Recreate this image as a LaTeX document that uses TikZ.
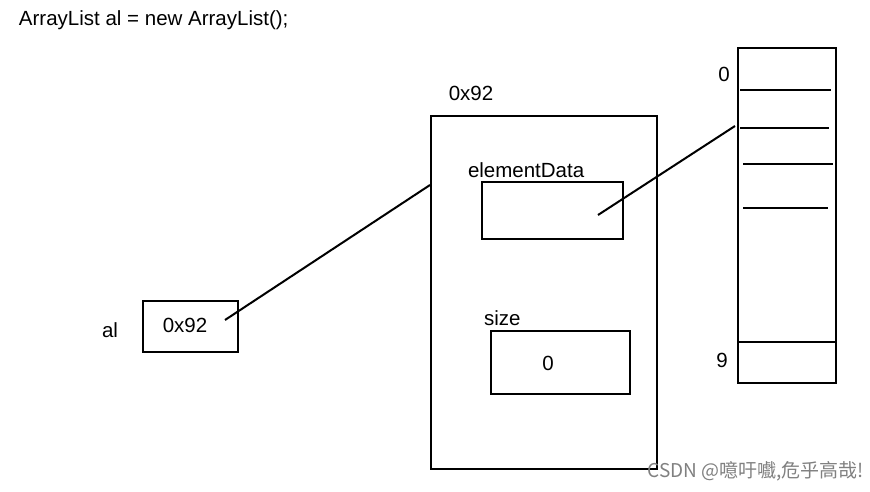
\documentclass[tikz,border=0pt]{standalone}
\usepackage{fontspec}
\setmainfont{Liberation Sans}
\newfontfamily\cjk{Noto Sans CJK SC}
\usetikzlibrary{positioning, calc}

\begin{document}
\begin{tikzpicture}[x=1pt, y=-1pt, line width=2pt,
		every node/.style = {inner sep=0pt, font=\fontsize{20.5}{24}\selectfont},
		box/.style = {draw, minimum width=#1}]
		\useasboundingbox (0,0) rectangle (870,492);

		% code line
		\node [anchor=west] (code) at (18,20) {ArrayList al = new ArrayList();};

		% reference variable
		\node [box=95pt, minimum height=51pt] (ref) at (190.5,326.5) {};
		\node (ref val) at (185,325) {0x92};
		\node (ref name) at (110,330) {al};

		% object on the heap
		\node [box=226pt, minimum height=353pt] (obj) at (544,292.5) {};
		\node (obj addr) at (471,93) {0x92};
		\node [box=141pt, minimum height=57pt] (data) at (552.5,210.5) {};
		\node [anchor=base west] (data name) at (467,178) {elementData};
		\node [box=139pt, minimum height=63pt] (size) at (560.5,362.5) {};
		\node (size val) at (548,363) {0};
		\node [anchor=base west] (size name) at (483,325) {size};

		% array
		\node [box=98pt, minimum height=335pt] (arr) at (787,215.5) {};
		\foreach \y/\a/\b in {90/740/831, 128/740/829, 164/743/833, 208/743/828}
			\draw (\a,\y) -- (\b,\y);
		\draw (arr.west |- 0,342) -- (arr.east |- 0,342);
		\node (first) at (724,74) {0};
		\node (last) at (722,360) {9};

		% pointers
		\coordinate (ref ptr) at (225,320);
		\coordinate (obj in) at (obj.west |- 0,185);
		\coordinate (data ptr) at (598,215);
		\coordinate (arr in) at (735,126);
		\draw (ref ptr) -- (obj in);
		\draw (data ptr) -- (arr in);

		\node [anchor=east, text=gray, font=\cjk\fontsize{19}{22}\selectfont] (mark) at (865,471) {CSDN @噫吁嚱,危乎高哉!};
	\end{tikzpicture}
\end{document}
